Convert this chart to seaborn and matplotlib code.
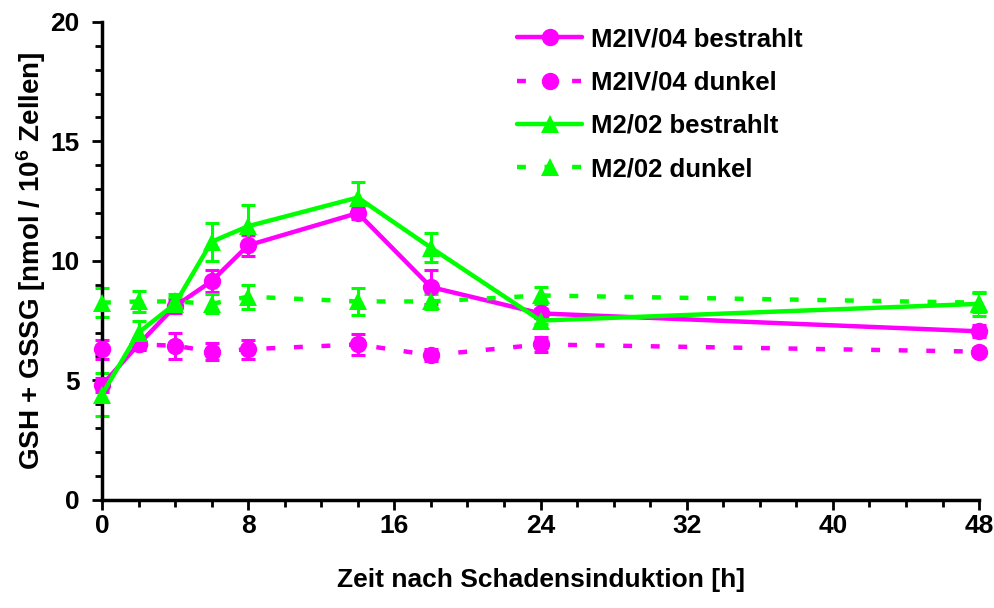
import matplotlib
matplotlib.use("Agg")
import matplotlib.pyplot as plt
from matplotlib.ticker import MultipleLocator
import seaborn as sns
import pandas as pd

hours = [0, 2, 4, 6, 8, 14, 18, 24, 48]

m2iv_bestrahlt = [4.8, 6.5, 8.1, 9.15, 10.65, 12.0, 8.9, 7.8, 7.05]
m2iv_bestrahlt_err = [0.3, 0.25, 0.3, 0.45, 0.45, 0.25, 0.7, 0.2, 0.25]
m2iv_dunkel = [6.3, 6.5, 6.45, 6.2, 6.3, 6.5, 6.05, 6.5, 6.2]
m2iv_dunkel_err = [0.4, 0.25, 0.55, 0.35, 0.4, 0.45, 0.25, 0.3, 0.15]
m202_bestrahlt = [4.4, 7.0, 8.2, 10.8, 11.45, 12.65, 10.55, 7.5, 8.2]
m202_bestrahlt_err = [0.9, 0.5, 0.3, 0.8, 0.9, 0.65, 0.6, 0.15, 0.5]
m202_dunkel = [8.25, 8.3, 8.3, 8.2, 8.5, 8.3, 8.3, 8.55, 8.25]
m202_dunkel_err = [0.6, 0.45, 0.3, 0.4, 0.5, 0.55, 0.3, 0.35, 0.4]

labels = ["M2IV/04 bestrahlt", "M2IV/04 dunkel", "M2/02 bestrahlt", "M2/02 dunkel"]
values = [m2iv_bestrahlt, m2iv_dunkel, m202_bestrahlt, m202_dunkel]
errors = [m2iv_bestrahlt_err, m2iv_dunkel_err, m202_bestrahlt_err, m202_dunkel_err]

x_ticks = [0, 8, 16, 24, 32, 40, 48]
y_ticks = [0, 5, 10, 15, 20]

sns.set_style("ticks")
plt.rcParams['font.family'] = ['Liberation Sans', 'DejaVu Sans']
plt.rcParams['font.weight'] = 'bold'
plt.rcParams['mathtext.fontset'] = 'custom'
plt.rcParams['mathtext.bf'] = 'Liberation Sans:bold'
plt.rcParams['mathtext.rm'] = 'Liberation Sans:bold'
plt.rcParams['mathtext.default'] = 'bf'
plt.rcParams['text.color'] = 'black'
plt.rcParams['axes.labelcolor'] = 'black'
plt.rcParams['xtick.color'] = 'black'
plt.rcParams['ytick.color'] = 'black'

MAG = "#FF00FF"
GRN = "#00FF00"
colors = [MAG, MAG, GRN, GRN]
markers = ["o", "o", "^", "^"]
dash = (0, (2.0, 4.2))
styles = ["-", dash, "-", dash]

rows = []
for lab, vals, errs in zip(labels, values, errors):
    for h, v, e in zip(hours, vals, errs):
        rows.append({"Zeit": h, "Wert": v, "Fehler": e, "Serie": lab})
df = pd.DataFrame(rows)

fig = plt.figure(figsize=(9.94, 6.08), dpi=100)
ax = fig.add_axes([0.1026, 0.178, 0.8824, 0.786])

handles = []
for lab, c, m, ls in zip(labels, colors, markers, styles):
    sub = df[df["Serie"] == lab]
    ax.errorbar(sub["Zeit"], sub["Wert"], yerr=sub["Fehler"], fmt="none",
                ecolor=c, elinewidth=2.2, capsize=5, capthick=2.2, zorder=2)
    sns.lineplot(data=sub, x="Zeit", y="Wert", ax=ax, color=c, marker=m,
                 markersize=12.5, markeredgewidth=0,
                 linewidth=3.2, linestyle=ls, errorbar=None, legend=False,
                 zorder=3)
    line = ax.lines[-1]
    line.set_linestyle(ls)
    handles.append(line)

ax.set_xlim(0, 48)
ax.set_ylim(0, 20)
ax.set_xticks(x_ticks)
ax.set_yticks(y_ticks)
ax.xaxis.set_minor_locator(MultipleLocator(2))
ax.yaxis.set_minor_locator(MultipleLocator(1))
ax.tick_params(axis="both", which="major", length=7, width=2, labelsize=19,
               color="black", labelcolor="black")
ax.tick_params(axis="x", which="major", pad=3)
ax.tick_params(axis="y", which="major", pad=9)
ax.tick_params(axis="both", which="minor", length=5, width=2, color="black")
for lbl in ax.get_xticklabels() + ax.get_yticklabels():
    lbl.set_fontweight("bold")

sns.despine(ax=ax)
for s in ["left", "bottom"]:
    ax.spines[s].set_linewidth(2.5)
    ax.spines[s].set_color("black")
    ax.spines[s].set_clip_on(False)

ax.set_xlabel("Zeit nach Schadensinduktion [h]", fontsize=19, fontweight="bold",
              labelpad=22, color="black")
ax.set_ylabel("GSH + GSSG [nmol / 10$^{6}$ Zellen]", fontsize=20,
              fontweight="bold", labelpad=2, color="black")

for ln in ax.lines:
    ln.set_clip_on(False)

leg = ax.legend(handles, labels, loc="upper left",
                bbox_to_anchor=(0.462, 1.01), frameon=False,
                prop={"weight": "bold", "size": 18.5}, handlelength=2.5,
                handletextpad=0.35, labelspacing=0.75, borderaxespad=0)
for t in leg.get_texts():
    t.set_color("black")

fig.savefig("out.png", dpi=100)
